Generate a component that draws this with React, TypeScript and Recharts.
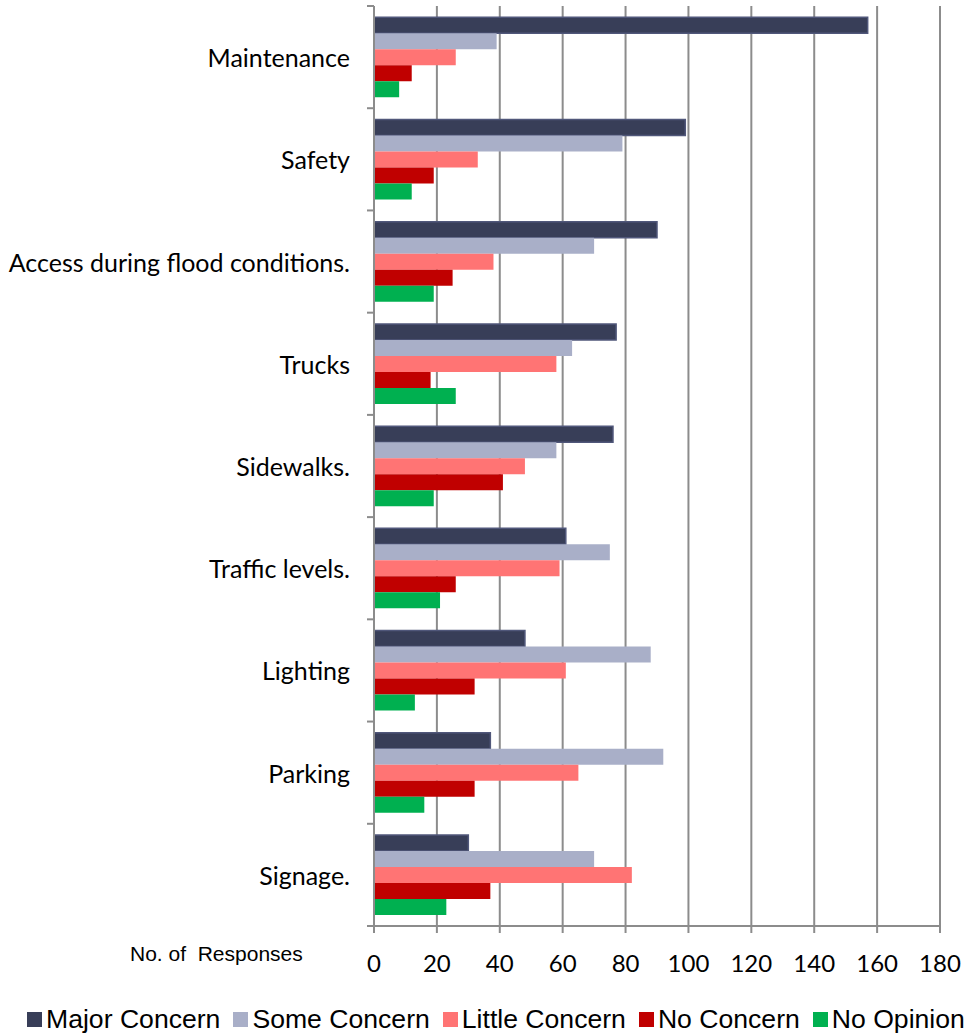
import { BarChart, Bar, XAxis, YAxis, CartesianGrid } from 'recharts'

const categories = [
  'Maintenance',
  'Safety',
  'Access during flood conditions.',
  'Trucks',
  'Sidewalks.',
  'Traffic levels.',
  'Lighting',
  'Parking',
  'Signage.',
]

const majorConcern = [157, 99, 90, 77, 76, 61, 48, 37, 30]
const someConcern = [39, 79, 70, 63, 58, 75, 88, 92, 70]
const littleConcern = [26, 33, 38, 58, 48, 59, 61, 65, 82]
const noConcern = [12, 19, 25, 18, 41, 26, 32, 32, 37]
const noOpinion = [8, 12, 19, 26, 19, 21, 13, 16, 23]

const xTicks = [0, 20, 40, 60, 80, 100, 120, 140, 160, 180]

const seriesList = [
  { key: 'major', name: 'Major Concern', color: '#383E58', stroke: '#50577A' },
  { key: 'some', name: 'Some Concern', color: '#A9AFC8', stroke: 'none' },
  { key: 'little', name: 'Little Concern', color: '#FF7474', stroke: 'none' },
  { key: 'no', name: 'No Concern', color: '#C00000', stroke: 'none' },
  { key: 'noop', name: 'No Opinion', color: '#00B050', stroke: 'none' },
]

const data = categories.map((cat, i) => ({
  cat,
  major: majorConcern[i],
  some: someConcern[i],
  little: littleConcern[i],
  no: noConcern[i],
  noop: noOpinion[i],
}))

const GRAY = '#8C8C8C'
const LABEL_FONT = 'Lato, "Open Sans", sans-serif'
const ARIAL = '"Liberation Sans", Arial, sans-serif'

function CategoryTick(props: any) {
  const { x, y, payload, index } = props
  const band = 920 / categories.length
  const axisX = x + 8
  return (
    <g>
      <line x1={axisX - 7} x2={axisX} y1={y - band / 2} y2={y - band / 2} stroke={GRAY} strokeWidth={2} />
      {index === categories.length - 1 && (
        <line x1={axisX - 7} x2={axisX} y1={y + band / 2} y2={y + band / 2} stroke={GRAY} strokeWidth={2} />
      )}
      <text x={axisX - 24} y={y} textAnchor="end" dominantBaseline="central" fontFamily={LABEL_FONT} fontSize={25} fill="#000">
        {payload.value}
      </text>
    </g>
  )
}

export default function App() {
  return (
    <div style={{ position: 'absolute', left: 0, top: 0, width: 965, height: 1036, overflow: 'hidden', background: '#fff' }}>
      <BarChart
        width={965}
        height={1036}
        data={data}
        layout="vertical"
        margin={{ top: 6, right: 25, left: 0, bottom: 50 }}
        barCategoryGap="11%"
        barGap={0}
      >
        <CartesianGrid horizontal={false} vertical stroke={GRAY} strokeWidth={2} />
        <XAxis
          type="number"
          domain={[0, 180]}
          ticks={xTicks}
          height={60}
          axisLine={{ stroke: GRAY, strokeWidth: 2 }}
          tickLine={{ stroke: GRAY, strokeWidth: 2 }}
          tickSize={7}
          tickMargin={22}
          tick={{ fill: '#000', fontSize: 24, fontFamily: LABEL_FONT }}
        />
        <YAxis
          type="category"
          dataKey="cat"
          width={374}
          axisLine={{ stroke: GRAY, strokeWidth: 2 }}
          tickLine={false}
          tick={<CategoryTick />}
          interval={0}
        />
        {seriesList.map((s) => (
          <Bar
            key={s.key}
            dataKey={s.key}
            name={s.name}
            fill={s.color}
            stroke={s.stroke}
            strokeWidth={s.stroke === 'none' ? 0 : 1.5}
            isAnimationActive={false}
          />
        ))}
      </BarChart>
      <div
        style={{
          position: 'absolute',
          left: 130,
          top: 942,
          fontFamily: ARIAL,
          fontSize: 21,
          whiteSpace: 'pre',
          color: '#000',
        }}
      >
        {'No. of  Responses'}
      </div>
      <div
        style={{
          position: 'absolute',
          left: 27,
          top: 1004,
          display: 'flex',
          alignItems: 'center',
          whiteSpace: 'nowrap',
          fontFamily: ARIAL,
          fontSize: 26.6,
          color: '#000',
        }}
      >
        {seriesList.map((s) => (
          <div key={s.key} style={{ display: 'flex', alignItems: 'center', marginRight: 13 }}>
            <span style={{ display: 'inline-block', width: 15, height: 15, background: s.color, marginRight: 4 }} />
            <span>{s.name}</span>
          </div>
        ))}
      </div>
    </div>
  )
}
